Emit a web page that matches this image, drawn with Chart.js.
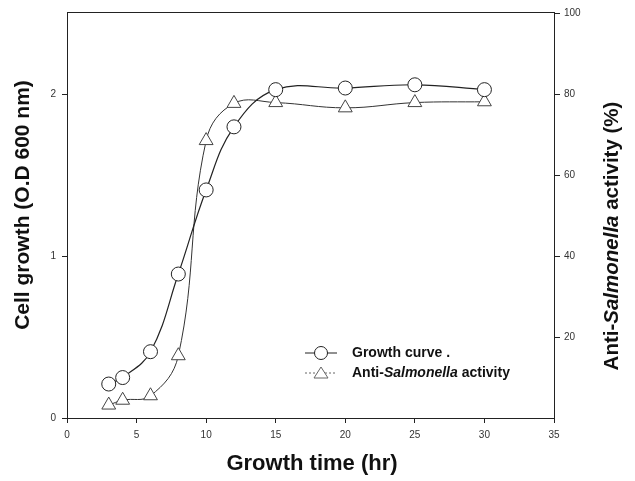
<!DOCTYPE html>
<html>
<head>
<meta charset="utf-8">
<script src="https://cdn.jsdelivr.net/npm/chart.js@4"></script>
<style>
  html, body { margin: 0; padding: 0; background: #fff; }
  #wrap { width: 635px; height: 481px; position: relative; }
</style>
</head>
<body>
<div id="wrap"><canvas id="chart"></canvas></div>
<script>
// 数据
const hours = [3, 4, 6, 8, 10, 12, 15, 20, 25, 30];
const growthOD = [0.21, 0.25, 0.41, 0.89, 1.41, 1.80, 2.03, 2.04, 2.06, 2.03];
const activityPct = [3.2, 4.4, 5.5, 15.4, 68.6, 77.8, 78.0, 76.7, 78.0, 78.2];
const xTicks = [0, 5, 10, 15, 20, 25, 30, 35];
const leftTicks = [0, 1, 2];
const rightTicks = [20, 40, 60, 80, 100];

const FONT = 'Liberation Sans, Arial, sans-serif';

// 边框、轴标题和图例（标题里有斜体，所以手动画）
const decorPlugin = {
  id: 'decor',
  afterDraw(chart) {
    const c = chart.ctx;
    const a = chart.chartArea;
    c.save();
    c.strokeStyle = '#222';
    c.lineWidth = 1;
    c.strokeRect(a.left + 0.5, a.top + 0.5, a.right - a.left, a.bottom - a.top);

    // 混合字体的文字
    function mixed(parts, x, y, rot) {
      c.save();
      c.translate(x, y);
      c.rotate(rot);
      let w = 0;
      parts.forEach(p => { c.font = p[1]; w += c.measureText(p[0]).width; });
      let cx = -w / 2;
      c.textBaseline = 'middle';
      c.textAlign = 'left';
      c.fillStyle = '#111';
      parts.forEach(p => {
        c.font = p[1];
        c.fillText(p[0], cx, 0);
        cx += c.measureText(p[0]).width;
      });
      c.restore();
    }
    mixed([['Cell growth (O.D 600 nm)', 'bold 21px ' + FONT]], 23, 205, -Math.PI / 2);
    mixed([['Anti-', 'bold 20.5px ' + FONT], ['Salmonella', 'italic bold 20.5px ' + FONT],
           [' activity (%)', 'bold 20.5px ' + FONT]], 612, 236, -Math.PI / 2);
    mixed([['Growth time (hr)', 'bold 22px ' + FONT]], 312, 464, 0);

    // 图例
    const lx = 305, ly1 = 353, ly2 = 373;
    c.strokeStyle = '#222';
    c.beginPath(); c.moveTo(lx, ly1); c.lineTo(lx + 32, ly1); c.stroke();
    c.fillStyle = '#fff';
    c.beginPath(); c.arc(lx + 16, ly1, 6.5, 0, Math.PI * 2); c.fill(); c.stroke();
    c.strokeStyle = '#666';
    c.setLineDash([2, 2]);
    c.beginPath(); c.moveTo(lx, ly2); c.lineTo(lx + 32, ly2); c.stroke();
    c.setLineDash([]);
    c.beginPath();
    c.moveTo(lx + 16, ly2 - 6); c.lineTo(lx + 23, ly2 + 5); c.lineTo(lx + 9, ly2 + 5); c.closePath();
    c.fill(); c.stroke();
    const L = 'bold 14px ' + FONT;
    const LI = 'italic bold 14px ' + FONT;
    c.fillStyle = '#111';
    c.textBaseline = 'middle';
    c.font = L;
    c.fillText('Growth curve .', lx + 47, ly1);
    let tx = lx + 47;
    [['Anti-', L], ['Salmonella', LI], [' activity', L]].forEach(p => {
      c.font = p[1];
      c.fillText(p[0], tx, ly2);
      tx += c.measureText(p[0]).width;
    });
    c.restore();
  }
};

new Chart(document.getElementById('chart'), {
  type: 'line',
  data: {
    datasets: [{
      label: 'Growth curve',
      data: hours.map((h, i) => ({ x: h, y: growthOD[i] })),
      yAxisID: 'y',
      borderColor: '#222',
      borderWidth: 1.2,
      pointStyle: 'circle',
      pointRadius: 7,
      pointBackgroundColor: '#fff',
      pointBorderColor: '#222',
      pointBorderWidth: 1,
      tension: 0.4,
      fill: false
    }, {
      label: 'Anti-Salmonella activity',
      data: hours.map((h, i) => ({ x: h, y: activityPct[i] })),
      yAxisID: 'y1',
      borderColor: '#333',
      borderWidth: 1,
      pointStyle: 'triangle',
      pointRadius: 8,
      pointBackgroundColor: '#fff',
      pointBorderColor: '#444',
      pointBorderWidth: 1,
      tension: 0.4,
      fill: false
    }]
  },
  options: {
    responsive: true,
    maintainAspectRatio: false,
    animation: false,
    layout: { padding: { top: 10, left: 0, right: 0, bottom: 0 } },
    plugins: { legend: { display: false }, tooltip: { enabled: false } },
    scales: {
      x: {
        type: 'linear',
        min: 0, max: 35,
        afterBuildTicks: s => { s.ticks = xTicks.map(v => ({ value: v })); },
        afterFit: s => { s.height = 63; },
        grid: { display: true, drawOnChartArea: false, tickLength: 5, color: '#222' },
        border: { color: '#222' },
        ticks: { font: { family: FONT, size: 10 }, color: '#333', padding: 6, maxRotation: 0 }
      },
      y: {
        position: 'left',
        min: 0, max: 2.51,
        afterBuildTicks: s => { s.ticks = leftTicks.map(v => ({ value: v })); },
        afterFit: s => { s.width = 67; },
        grid: { display: true, drawOnChartArea: false, tickLength: 5, color: '#222' },
        border: { color: '#222' },
        ticks: { font: { family: FONT, size: 10 }, color: '#333', padding: 6 }
      },
      y1: {
        position: 'right',
        min: 0, max: 100.4,
        afterBuildTicks: s => { s.ticks = rightTicks.map(v => ({ value: v })); },
        afterFit: s => { s.width = 81; },
        grid: { display: true, drawOnChartArea: false, tickLength: 6, color: '#222' },
        border: { color: '#222' },
        ticks: { font: { family: FONT, size: 10 }, color: '#333', padding: 4 }
      }
    }
  },
  plugins: [decorPlugin]
});
</script>
</body>
</html>
